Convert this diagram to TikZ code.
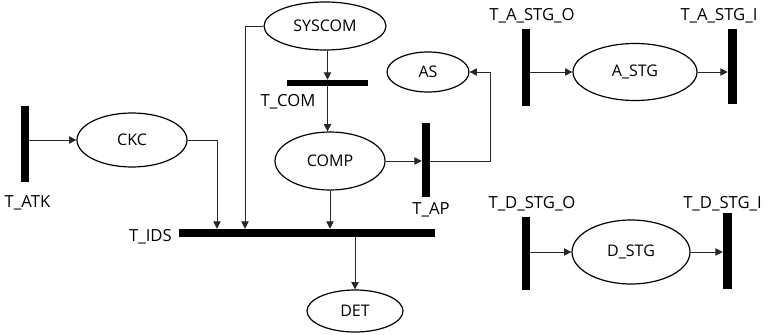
\documentclass[tikz,border=0pt]{standalone}
\usepackage{fontspec}
\setmainfont{Open Sans}
\usetikzlibrary{shapes.geometric,arrows.meta,calc}
\tikzset{
  place/.style={draw, ellipse, line width=0.9pt, inner sep=0pt, font=\fontsize{12}{14}\selectfont},
  bar/.style={fill=black, draw=none, inner sep=0pt, rectangle},
  lbl/.style={inner sep=0pt, font=\fontsize{12.5}{14}\selectfont},
  arr/.style={draw=black!85, line width=0.6pt, -{Triangle[length=5.5pt,width=5.5pt]}},
}
\begin{document}
\begin{tikzpicture}[x=0.75pt,y=-0.75pt]
\useasboundingbox (0,0) rectangle (767,335);
% places
\node[place, minimum width=82.5pt, minimum height=40.5pt] (ckc) at (132,140) {CKC};
\node[place, minimum width=91.5pt, minimum height=36pt] (syscom) at (325,26) {SYSCOM};
\node[place, minimum width=82.5pt, minimum height=43.5pt] (comp) at (330,161) {COMP};
\node[place, minimum width=61.5pt, minimum height=30pt] (as) at (428,72) {AS};
\node[place, minimum width=72pt, minimum height=31.5pt] (det) at (355,311) {DET};
\node[place, minimum width=93pt, minimum height=42.75pt] (astg) at (635,72) {A\_STG};
\node[place, minimum width=88.5pt, minimum height=48pt] (dstg) at (631,252) {D\_STG};
% transitions (bars)
\node[bar, minimum width=6pt, minimum height=57pt] (tatk) at (25,144) {};
\node[bar, minimum width=192pt, minimum height=6pt] (tids) at (307,233) {};
\node[bar, minimum width=60.75pt, minimum height=4.5pt] (tcom) at (327.5,83) {};
\node[bar, minimum width=6pt, minimum height=55.5pt] (tap) at (426,160) {};
\node[bar, minimum width=6pt, minimum height=57.75pt] (tasto) at (526,67.5) {};
\node[bar, minimum width=6.75pt, minimum height=56.25pt] (tasti) at (732.5,66.5) {};
\node[bar, minimum width=6pt, minimum height=54.75pt] (tdsto) at (526,253.5) {};
\node[bar, minimum width=6.75pt, minimum height=57pt] (tdsti) at (727.5,251) {};
% labels
\node[lbl] (ltatk) at (27.5,203) {T\_ATK};
\node[lbl, anchor=east] (ltids) at (172,237) {T\_IDS};
\node[lbl] (ltcom) at (288,102) {T\_COM};
\node[lbl] (ltap) at (431,210) {T\_AP};
\node[lbl] (ltasto) at (532,16) {T\_A\_STG\_O};
\node[lbl] (ltasti) at (719,16) {T\_A\_STG\_I};
\node[lbl] (ltdsto) at (532,204) {T\_D\_STG\_O};
\node[lbl, anchor=west] (ltdsti) at (683,204) {T\_D\_STG\_I};
% helper coordinates
\coordinate (kas) at (490,72);
\coordinate (kckc) at (217,0);
\coordinate (ksys) at (245,0);
% connectors
\draw[arr] (tatk.east |- ckc.west) -- (ckc.west);
\draw[arr] (ckc.east) -| (kckc |- tids.north);
\draw[arr] (syscom.west) -| (ksys |- tids.north);
\draw[arr] (tcom.north |- syscom.south) -- (tcom.north);
\draw[arr] (tcom.south) -- (tcom.south |- comp.north);
\draw[arr] (comp.south) -- (comp.south |- tids.north);
\draw[arr] (comp.east) -- (tap.west |- comp.east);
\draw[arr] (tap.east |- comp.east) -| (kas) -- (as.east);
\draw[arr] (det.north |- tids.south) -- (det.north);
\draw[arr] (tasto.east |- astg.west) -- (astg.west);
\draw[arr] (astg.east) -- (tasti.west |- astg.east);
\draw[arr] (tdsto.east |- dstg.west) -- (dstg.west);
\draw[arr] (dstg.east) -- (tdsti.west |- dstg.east);
\end{tikzpicture}
\end{document}
